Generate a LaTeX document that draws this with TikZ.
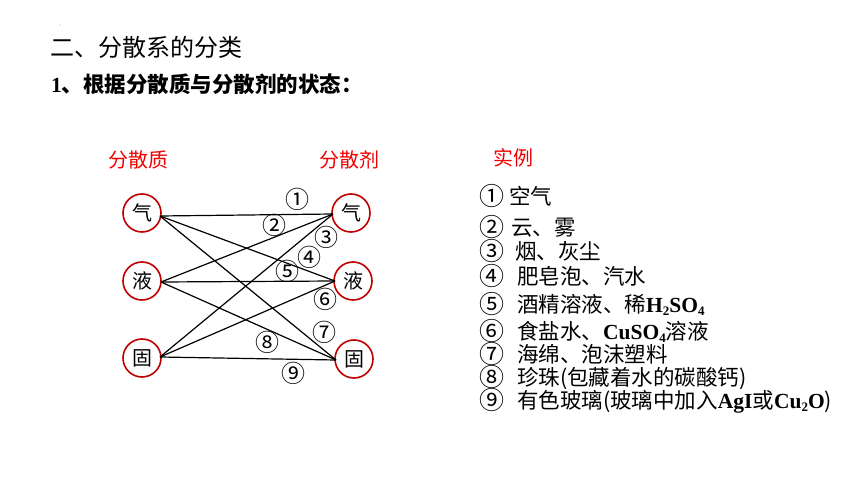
\documentclass[tikz,border=0pt]{standalone}
\usepackage{fontspec}
\setmainfont{Liberation Serif}
\newfontfamily\cjk{Noto Sans CJK SC}
\newcommand\mysub[1]{\raisebox{-0.35ex}{\fontsize{13}{13}\selectfont #1}}
\definecolor{ringred}{RGB}{192,0,0}
\definecolor{labred}{RGB}{240,0,0}
\begin{document}
\begin{tikzpicture}[x=1pt,y=-1pt,
  state/.style={circle,draw=ringred,line width=1.6pt,minimum size=38pt,inner sep=0pt,font=\cjk\fontsize{20}{20}\selectfont},
  link/.style={line width=1.2pt,black},
  num/.style={inner sep=0pt,text height=18.5pt,text depth=0pt,font=\cjk\fontsize{24}{24}\selectfont},
  head/.style={inner sep=0pt,text=labred,font=\cjk\fontsize{20}{20}\selectfont},
  item/.style={inner sep=0pt,anchor=west,text height=18.5pt,text depth=2pt,font=\cjk\fontsize{21.5}{21.5}\selectfont},
  itemnum/.style={inner sep=0pt,text height=19pt,text depth=0pt,font=\cjk\fontsize{25}{25}\selectfont},
]
\useasboundingbox[fill=white] (0,0) rectangle (860,484);
\fill[gray!60] (60,25) circle (0.6);

% titles
\node[inner sep=0pt,anchor=west,font=\cjk\fontsize{24}{24}\selectfont] (title) at (50,47) {二、分散系的分类};
\node[inner sep=0pt,anchor=west,font=\fontsize{21.5}{21.5}\selectfont] (subtitle) at (51,84) {\textbf{1}{\cjk\bfseries 、根据分散质与分散剂的状态：}};

% headers
\node[head] (hq) at (138,160) {分散质};
\node[head] (hj) at (349,160) {分散剂};
\node[head] (hs) at (513,158) {实例};

% state circles
\node[state] (g1) at (142,213) {气};
\node[state] (l1) at (142,281) {液};
\node[state] (s1) at (142,358) {固};
\node[state] (g2) at (351,213) {气};
\node[state] (l2) at (353,281) {液};
\node[state] (s2) at (354,359) {固};

% line ends
\coordinate (gL) at (160,216);
\coordinate (lL) at (161,282);
\coordinate (sL) at (160,357);
\coordinate (gR) at (333,214);
\coordinate (lR) at (335,281);
\coordinate (sR) at (336,360);

\draw[link] (gL) -- (gR);
\draw[link] (lL) -- (gR);
\draw[link] (sL) -- (gR);
\draw[link] (gL) -- (lR);
\draw[link] (lL) -- (lR);
\draw[link] (sL) -- (lR);
\draw[link] (gL) -- (sR);
\draw[link] (lL) -- (sR);
\draw[link] (sL) -- (sR);

% line labels
\node[num] (n1) at (297,199) {①};
\node[num] (n2) at (274,225) {②};
\node[num] (n3) at (326,237) {③};
\node[num] (n4) at (309,257) {④};
\node[num] (n5) at (287,271) {⑤};
\node[num] (n6) at (325,299) {⑥};
\node[num] (n7) at (324,332) {⑦};
\node[num] (n8) at (267,342) {⑧};
\node[num] (n9) at (293,373) {⑨};

% examples
\node[itemnum] (e1n) at (492,196) {①};
\node[item] (e1) at (509,196) {空气};
\node[itemnum] (e2n) at (492,227) {②};
\node[item] (e2) at (511,227) {云、雾};
\node[itemnum] (e3n) at (492,251) {③};
\node[item] (e3) at (515,251) {烟、灰尘};
\node[itemnum] (e4n) at (492,276) {④};
\node[item] (e4) at (517,276) {肥皂泡、汽水};
\node[itemnum] (e5n) at (492,304) {⑤};
\node[item] (e5) at (517,304) {酒精溶液、稀{\rmfamily\bfseries H\mysub{2}SO\mysub{4}}};
\node[itemnum] (e6n) at (492,331) {⑥};
\node[item] (e6) at (517,331) {食盐水、{\rmfamily\bfseries CuSO\mysub{4}}溶液};
\node[itemnum] (e7n) at (492,354) {⑦};
\node[item] (e7) at (517,354) {海绵、泡沫塑料};
\node[itemnum] (e8n) at (492,377) {⑧};
\node[item] (e8) at (517,377) {珍珠(包藏着水的碳酸钙)};
\node[itemnum] (e9n) at (492,400) {⑨};
\node[item] (e9) at (517,400) {有色玻璃(玻璃中加入{\rmfamily\bfseries AgI}或{\rmfamily\bfseries Cu\mysub{2}O})};
\end{tikzpicture}
\end{document}
